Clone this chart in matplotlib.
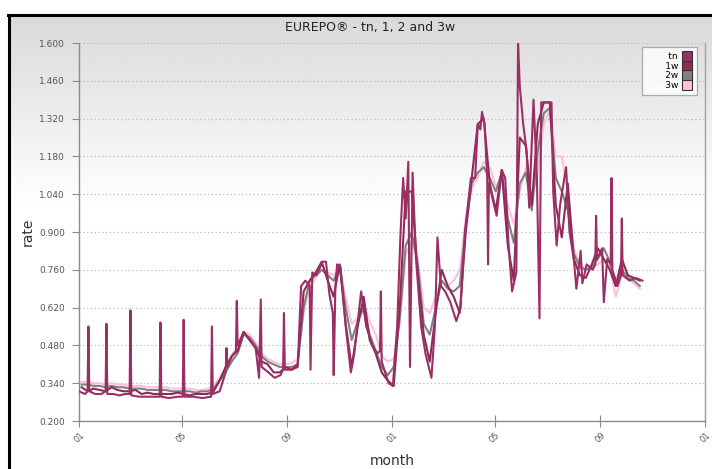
import matplotlib
matplotlib.use("Agg")
import matplotlib.pyplot as plt
from matplotlib.lines import Line2D
import numpy as np
import pandas as pd

# ---------------- data ----------------
title = "EUREPO® - tn, 1, 2 and 3w"
series_names = ["tn", "1w", "2w", "3w"]
series_colors = ["#9B2F63", "#8E2A5A", "#808080", "#FFBFDD"]

week_start = "2010-01-04"
n_weeks = 94

w3_vals = [0.345, 0.345, 0.340, 0.340, 0.335, 0.340, 0.335, 0.335, 0.330, 0.330,
           0.330, 0.325, 0.325, 0.325, 0.325, 0.320, 0.320, 0.320, 0.320, 0.315,
           0.315, 0.320, 0.330, 0.360, 0.390, 0.430, 0.470, 0.530, 0.520, 0.490,
           0.450, 0.430, 0.420, 0.410, 0.410, 0.415, 0.430, 0.600, 0.700, 0.730,
           0.760, 0.750, 0.740, 0.770, 0.660, 0.560, 0.580, 0.630, 0.570, 0.520,
           0.440, 0.420, 0.430, 0.560, 0.820, 0.860, 0.800, 0.620, 0.600, 0.660,
           0.720, 0.700, 0.720, 0.760, 0.950, 1.060, 1.100, 1.160, 1.140, 1.070,
           1.100, 1.000, 0.930, 1.050, 1.140, 1.020, 1.120, 1.300, 1.350, 1.180,
           1.180, 1.050, 0.840, 0.780, 0.760, 0.770, 0.780, 0.800, 0.770, 0.660,
           0.740, 0.730, 0.710, 0.690]

w2_vals = [0.335, 0.335, 0.330, 0.330, 0.325, 0.330, 0.325, 0.325, 0.320, 0.320,
           0.320, 0.315, 0.315, 0.315, 0.315, 0.310, 0.310, 0.310, 0.310, 0.305,
           0.310, 0.310, 0.320, 0.350, 0.380, 0.420, 0.450, 0.520, 0.510, 0.480,
           0.440, 0.420, 0.410, 0.400, 0.400, 0.400, 0.410, 0.620, 0.720, 0.740,
           0.760, 0.740, 0.720, 0.770, 0.620, 0.500, 0.570, 0.620, 0.520, 0.460,
           0.400, 0.370, 0.400, 0.580, 0.850, 0.900, 0.780, 0.560, 0.520, 0.620,
           0.720, 0.690, 0.680, 0.700, 0.920, 1.080, 1.120, 1.140, 1.100, 1.050,
           1.120, 0.950, 0.860, 1.080, 1.120, 0.980, 1.200, 1.340, 1.360, 1.100,
           1.050, 0.980, 0.820, 0.770, 0.760, 0.770, 0.800, 0.840, 0.790, 0.700,
           0.760, 0.730, 0.720, 0.700]

w1_vals = [0.325, 0.310, 0.320, 0.315, 0.310, 0.325, 0.315, 0.310, 0.310, 0.315,
           0.300, 0.305, 0.300, 0.300, 0.300, 0.300, 0.305, 0.300, 0.295, 0.300,
           0.300, 0.300, 0.310, 0.350, 0.400, 0.440, 0.460, 0.530, 0.500, 0.470,
           0.420, 0.410, 0.380, 0.380, 0.400, 0.390, 0.410, 0.680, 0.720, 0.750,
           0.790, 0.720, 0.660, 0.780, 0.560, 0.400, 0.550, 0.660, 0.500, 0.450,
           0.380, 0.350, 0.330, 0.620, 1.050, 1.050, 0.750, 0.520, 0.420, 0.600,
           0.760, 0.700, 0.660, 0.600, 0.900, 1.100, 1.300, 1.320, 1.080, 0.980,
           1.130, 0.850, 0.720, 1.250, 1.220, 1.000, 1.300, 1.380, 1.380, 1.000,
           0.880, 1.080, 0.800, 0.740, 0.730, 0.780, 0.840, 0.800, 0.760, 0.700,
           0.800, 0.740, 0.730, 0.720]

tn_dates = [
    "2010-01-01", "2010-01-08", "2010-01-11", "2010-01-12", "2010-01-13", "2010-01-20",
    "2010-01-27", "2010-02-01", "2010-02-02", "2010-02-03", "2010-02-10", "2010-02-17",
    "2010-02-24", "2010-03-01", "2010-03-02", "2010-03-03", "2010-03-12", "2010-03-22",
    "2010-04-01", "2010-04-05", "2010-04-06", "2010-04-07", "2010-04-16", "2010-04-26",
    "2010-05-02", "2010-05-03", "2010-05-04", "2010-05-14", "2010-05-25", "2010-06-04",
    "2010-06-05", "2010-06-06", "2010-06-14", "2010-06-21", "2010-06-22", "2010-06-23",
    "2010-06-28", "2010-07-03", "2010-07-04", "2010-07-05", "2010-07-12", "2010-07-19",
    "2010-07-26", "2010-07-30", "2010-08-01", "2010-08-02", "2010-08-10", "2010-08-17",
    "2010-08-24", "2010-08-27", "2010-08-28", "2010-08-29", "2010-09-06", "2010-09-13",
    "2010-09-17", "2010-09-22", "2010-09-27", "2010-09-28", "2010-09-30", "2010-10-05",
    "2010-10-12", "2010-10-16", "2010-10-20", "2010-10-24", "2010-10-25", "2010-10-27",
    "2010-10-29", "2010-11-02", "2010-11-08", "2010-11-14", "2010-11-18", "2010-11-26",
    "2010-12-02", "2010-12-09", "2010-12-15", "2010-12-18", "2010-12-19", "2010-12-20",
    "2010-12-28", "2011-01-02", "2011-01-07", "2011-01-11", "2011-01-14", "2011-01-17",
    "2011-01-20", "2011-01-22", "2011-01-25", "2011-01-29", "2011-02-04", "2011-02-09",
    "2011-02-16", "2011-02-20", "2011-02-23", "2011-02-27", "2011-03-04", "2011-03-10",
    "2011-03-17", "2011-03-22", "2011-03-27", "2011-04-03", "2011-04-08", "2011-04-11",
    "2011-04-14", "2011-04-16", "2011-04-19", "2011-04-22", "2011-04-23", "2011-04-24",
    "2011-05-03", "2011-05-09", "2011-05-13", "2011-05-17", "2011-05-21", "2011-05-26",
    "2011-05-28", "2011-05-30", "2011-06-03", "2011-06-07", "2011-06-10", "2011-06-15",
    "2011-06-19", "2011-06-22", "2011-06-24", "2011-07-06", "2011-07-08", "2011-07-12",
    "2011-07-16", "2011-07-23", "2011-07-27", "2011-08-01", "2011-08-04", "2011-08-09",
    "2011-08-11", "2011-08-16", "2011-08-23", "2011-08-26", "2011-08-27", "2011-08-28",
    "2011-09-03", "2011-09-05", "2011-09-09", "2011-09-13", "2011-09-14", "2011-09-15",
    "2011-09-21", "2011-09-25", "2011-09-26", "2011-09-27", "2011-10-05", "2011-10-12",
    "2011-10-20"]
tn_vals = [
    0.31, 0.30, 0.31, 0.55, 0.31, 0.30,
    0.30, 0.31, 0.56, 0.30, 0.30, 0.295,
    0.30, 0.30, 0.61, 0.295, 0.29, 0.29,
    0.29, 0.29, 0.565, 0.29, 0.285, 0.29,
    0.29, 0.575, 0.29, 0.29, 0.285, 0.29,
    0.55, 0.30, 0.31, 0.38, 0.47, 0.40,
    0.44, 0.46, 0.645, 0.48, 0.53, 0.50,
    0.47, 0.36, 0.65, 0.40, 0.38, 0.36,
    0.37, 0.39, 0.60, 0.39, 0.39, 0.40,
    0.70, 0.72, 0.70, 0.39, 0.75, 0.74,
    0.79, 0.79, 0.67, 0.60, 0.37, 0.70,
    0.78, 0.77, 0.55, 0.38, 0.45, 0.68,
    0.55, 0.48, 0.45, 0.46, 0.68, 0.42,
    0.34, 0.33, 0.55, 0.90, 1.10, 0.95,
    1.16, 0.40, 1.12, 0.80, 0.55, 0.45,
    0.36, 0.55, 0.88, 0.70, 0.68, 0.64,
    0.57, 0.62, 0.90, 1.10, 1.10, 1.30,
    1.28, 1.345, 1.30, 1.10, 0.78, 1.08,
    0.96, 1.13, 1.10, 0.85, 0.68, 0.75,
    1.60, 1.44, 1.30, 1.20, 0.99, 1.39,
    1.10, 0.58, 1.38, 1.38, 1.05, 0.85,
    1.00, 1.14, 0.90, 0.80, 0.69, 0.83,
    0.71, 0.78, 0.76, 0.78, 0.96, 0.80,
    0.84, 0.64, 0.80, 0.78, 1.10, 0.76,
    0.70, 0.74, 0.95, 0.74, 0.72, 0.73,
    0.72]

y_ticks = [0.200, 0.340, 0.480, 0.620, 0.760, 0.900, 1.040, 1.180, 1.320, 1.460, 1.600]
x_tick_dates = ["2010-01-01", "2010-05-01", "2010-09-01", "2011-01-01",
                "2011-05-01", "2011-09-01", "2012-01-01"]
x_tick_labels = ["01", "05", "09", "01", "05", "09", "01"]

# ---------------- figure ----------------
W, H = 712, 469
fig = plt.figure(figsize=(W / 100, H / 100), dpi=100)
fig.patch.set_facecolor("white")

# gradient background inside the frame
bg = fig.add_axes([8 / W, 0, 1 - 8 / W, (H - 16) / H], zorder=-10)
rows = np.arange(H - 16)
shade = np.clip(0.85 + 0.15 * rows / 190.0, 0, 1)
grad = np.column_stack([shade, shade])
bg.imshow(grad, cmap="gray", vmin=0, vmax=1, aspect="auto", interpolation="bilinear")
bg.set_axis_off()

# black frame (left and top)
fig.add_artist(Line2D([8.5 / W, 8.5 / W], [0, 1 - 15.5 / H], color="black", lw=2.2,
                      transform=fig.transFigure))
fig.add_artist(Line2D([7.5 / W, 1], [1 - 15.5 / H, 1 - 15.5 / H], color="black", lw=2.2,
                      transform=fig.transFigure))

ax = fig.add_axes([79 / W, 1 - 421 / H, (705 - 79) / W, (421 - 43) / H])
ax.set_facecolor("none")

wk_dates = pd.date_range(week_start, periods=n_weeks, freq="7D")
tn_dt = pd.to_datetime(tn_dates)

ax.plot(wk_dates, w3_vals, color=series_colors[3], lw=1.5, zorder=2)
ax.plot(wk_dates, w2_vals, color=series_colors[2], lw=1.5, zorder=3)
ax.plot(wk_dates, w1_vals, color=series_colors[1], lw=1.5, zorder=4)
ax.plot(tn_dt, tn_vals, color=series_colors[0], lw=1.5, zorder=5)

ax.set_xlim(pd.Timestamp("2010-01-01"), pd.Timestamp("2012-01-01"))
ax.set_ylim(0.2, 1.6)
ax.set_yticks(y_ticks)
ax.set_yticklabels([f"{v:.3f}" for v in y_ticks])
ax.set_xticks(pd.to_datetime(x_tick_dates))
ax.set_xticklabels(x_tick_labels, rotation=45, ha="center", va="top")

ax.grid(axis="y", color="#BDBDBD", lw=0.8, linestyle=(0, (1.2, 2.2)))
ax.set_axisbelow(True)

for s in ["left", "bottom"]:
    ax.spines[s].set_color("#8A8A8A")
    ax.spines[s].set_linewidth(1.0)
ax.spines["top"].set_visible(False)
ax.spines["right"].set_color("#A0A0A0")
ax.spines["right"].set_linewidth(1.0)

ax.tick_params(axis="y", direction="out", length=5, width=0.8, color="#8A8A8A",
               labelsize=6.5, labelcolor="#555555", pad=5)
ax.tick_params(axis="x", direction="inout", length=8, width=0.8, color="#8A8A8A",
               labelsize=6, labelcolor="#555555", pad=3)

ax.set_ylabel("rate", fontsize=10, color="#333333", labelpad=3)
ax.set_xlabel("month", fontsize=10, color="#333333", labelpad=7)

fig.text(370 / W, 1 - 27 / H, title, ha="center", va="center", fontsize=9, color="#222222")

handles = [Line2D([], [], marker="s", linestyle="none", markersize=7,
                  markerfacecolor=c, markeredgecolor="#333333", markeredgewidth=0.8)
           for c in series_colors]
leg = ax.legend(handles, ["      " + n for n in series_names], loc="upper right",
                bbox_to_anchor=(697 / W, 1 - 47 / H), bbox_transform=fig.transFigure,
                markerfirst=False, fontsize=6.5, frameon=True, fancybox=False,
                borderpad=0.6, labelspacing=0.05, handletextpad=0.5, handlelength=1.0,
                borderaxespad=0)
leg.get_frame().set_edgecolor("#999999")
leg.get_frame().set_linewidth(0.9)
for t in leg.get_texts():
    t.set_ha("right")

fig.savefig("out.png", dpi=100)
